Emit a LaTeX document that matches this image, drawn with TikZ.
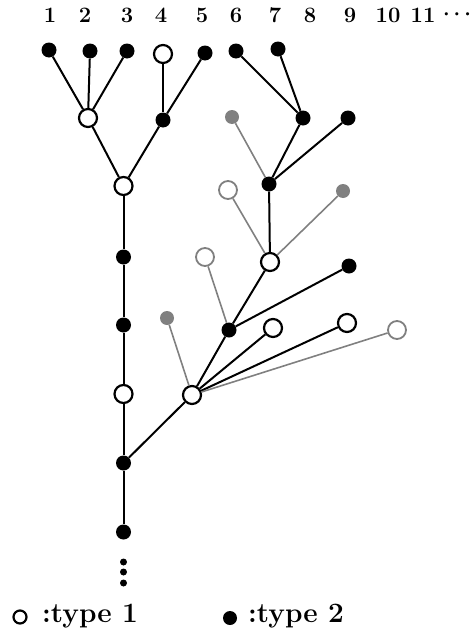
\documentclass[tikz,border=0pt]{standalone}
\begin{document}
\begin{tikzpicture}[x=1pt,y=-1pt,
  blk/.style={circle,fill=black,inner sep=0pt,minimum size=15pt},
  opn/.style={circle,draw=black,fill=white,line width=2.2pt,inner sep=0pt,minimum size=18pt},
  gblk/.style={circle,fill=black!50,inner sep=0pt,minimum size=14pt},
  gopn/.style={circle,draw=black!50,fill=white,line width=1.8pt,inner sep=0pt,minimum size=18pt},
  edge/.style={line width=2pt,black},
  gedge/.style={line width=1.6pt,black!50},
  lab/.style={font=\fontsize{22}{26}\selectfont\bfseries\boldmath,inner sep=0pt},
  leg/.style={font=\fontsize{28}{32}\selectfont\bfseries,inner sep=0pt,anchor=west},
  dot/.style={circle,fill=black,inner sep=0pt,minimum size=7pt}]
\useasboundingbox (0,0) rectangle (471,637);
% labels
\node[lab] (l1) at (50,15) {1};
\node[lab] (l2) at (85,15) {2};
\node[lab] (l3) at (127,15) {3};
\node[lab] (l4) at (161,15) {4};
\node[lab] (l5) at (202,15) {5};
\node[lab] (l6) at (236,15) {6};
\node[lab] (l7) at (275,15) {7};
\node[lab] (l8) at (310,15) {8};
\node[lab] (l9) at (350,15) {9};
\node[lab] (l10) at (388,15) {10};
\node[lab] (l11) at (423,15) {11};
\node[lab] (ldots) at (457,15) {$\cdots$};
% top row
\node[blk] (n1) at (49,50) {};
\node[blk] (n2) at (90,51) {};
\node[blk] (n3) at (127,51) {};
\node[opn] (n4) at (163,54) {};
\node[blk] (n5) at (205,53) {};
\node[blk] (n6) at (236,51) {};
\node[blk] (n7) at (278,49) {};
% second level
\node[opn] (A) at (88,118) {};
\node[blk] (B) at (163,120) {};
\node[gblk] (g1) at (232,117) {};
\node[blk] (C) at (303,118) {};
\node[blk] (D) at (348,118) {};
% third
\node[opn] (E) at (123.5,186) {};
\node[blk] (F) at (269,184) {};
\node[gopn] (g2) at (228,190) {};
\node[gblk] (g3) at (343,191) {};
% fourth
\node[blk] (T1) at (123.5,257) {};
\node[gopn] (g4) at (205,257) {};
\node[opn] (G) at (270,262) {};
\node[blk] (K) at (349,266) {};
% fifth
\node[blk] (T2) at (123.5,325) {};
\node[gblk] (g5) at (167,318) {};
\node[blk] (H) at (229,330) {};
\node[opn] (P) at (273,328) {};
\node[opn] (Q) at (347,323) {};
\node[gopn] (g6) at (397,330) {};
% sixth
\node[opn] (T3) at (123.5,394) {};
\node[opn] (I) at (192,395) {};
\node[blk] (T4) at (123.5,463) {};
\node[blk] (T5) at (123.5,532) {};
\node[dot] (d1) at (123.5,562) {};
\node[dot] (d2) at (123.5,572) {};
\node[dot] (d3) at (123.5,583) {};
% edges
\draw[edge] (n1) -- (A);
\draw[edge] (n2) -- (A);
\draw[edge] (n3) -- (A);
\draw[edge] (n4) -- (B);
\draw[edge] (n5) -- (B);
\draw[edge] (A) -- (E);
\draw[edge] (B) -- (E);
\draw[edge] (E) -- (T1);
\draw[edge] (T1) -- (T2);
\draw[edge] (T2) -- (T3);
\draw[edge] (T3) -- (T4);
\draw[edge] (T4) -- (T5);
\draw[edge] (n6) -- (C);
\draw[edge] (n7) -- (C);
\draw[edge] (C) -- (F);
\draw[edge] (D) -- (F);
\draw[gedge] (g1) -- (F);
\draw[edge] (F) -- (G);
\draw[gedge] (g2) -- (G);
\draw[gedge] (g3) -- (G);
\draw[edge] (G) -- (H);
\draw[edge] (K) -- (H);
\draw[gedge] (g4) -- (H);
\draw[edge] (H) -- (I);
\draw[gedge] (g5) -- (I);
\draw[edge] (P) -- (I);
\draw[edge] (Q) -- (I);
\draw[gedge] (g6) -- (I);
\draw[edge] (I) -- (T4);
% legend
\node[circle,draw=black,line width=2.2pt,inner sep=0pt,minimum size=13pt] (lo) at (20,617) {};
\node[leg] (lt1) at (42,616) {:type 1};
\node[circle,fill=black,inner sep=0pt,minimum size=14pt] (lf) at (230,618) {};
\node[leg] (lt2) at (248,616) {:type 2};
\end{tikzpicture}
\end{document}
